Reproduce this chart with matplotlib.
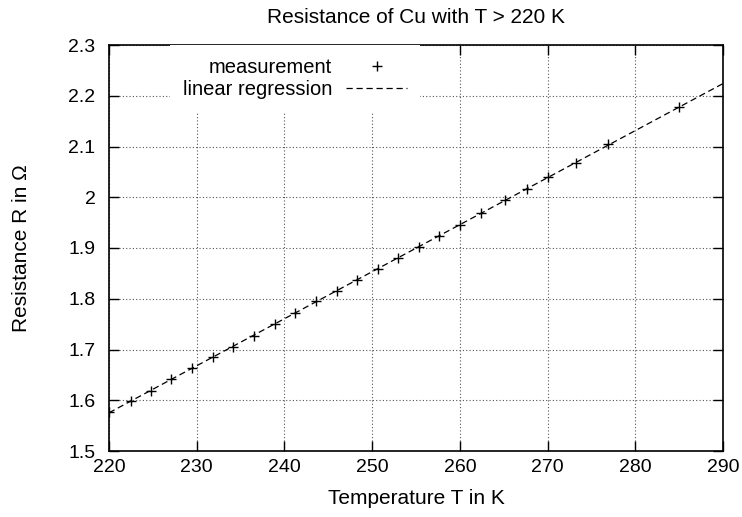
import numpy as np
import matplotlib
matplotlib.use("Agg")
import matplotlib.pyplot as plt

plt.rcParams['font.family'] = ['Liberation Sans', 'DejaVu Sans']

temperature = [220.0, 222.47, 224.74, 227.06, 229.42, 231.88, 234.09, 236.53, 238.89,
               241.2, 243.6, 245.95, 248.3, 250.63, 252.94, 255.3, 257.65, 260.01,
               262.4, 265.2, 267.65, 270.1, 273.25, 276.86, 284.99]
resistance = [1.577, 1.599, 1.618, 1.642, 1.663, 1.686, 1.704, 1.727, 1.750,
              1.772, 1.795, 1.816, 1.836, 1.859, 1.880, 1.902, 1.924, 1.946,
              1.968, 1.995, 2.016, 2.040, 2.068, 2.104, 2.178]
x_ticks = [220, 230, 240, 250, 260, 270, 280, 290]
y_ticks = [1.5, 1.6, 1.7, 1.8, 1.9, 2.0, 2.1, 2.2, 2.3]
x_tick_labels = ["220", "230", "240", "250", "260", "270", "280", "290"]
y_tick_labels = ["1.5", "1.6", "1.7", "1.8", "1.9", "2", "2.1", "2.2", "2.3"]

fig = plt.figure(figsize=(7.42, 5.17), dpi=100)
ax = fig.add_axes([109/742, 1 - 451/517, 614/742, 406/517])

slope, intercept = np.polyfit(temperature, resistance, 1)
xfit = np.array([x_ticks[0], x_ticks[-1]])
ax.plot(temperature, resistance, linestyle='none', marker='+', color='black',
        markersize=7, markeredgewidth=1.0, label='measurement', zorder=3)
ax.plot(xfit, slope * xfit + intercept, color='black', linewidth=0.9,
        linestyle=(0, (5, 3)), label='linear regression', zorder=2)

ax.set_xlim(x_ticks[0], x_ticks[-1])
ax.set_ylim(y_ticks[0], y_ticks[-1])
ax.set_xticks(x_ticks)
ax.set_xticklabels(x_tick_labels)
ax.set_yticks(y_ticks)
ax.set_yticklabels(y_tick_labels)
ax.tick_params(direction='in', length=7, width=1, top=True, right=True,
               labelsize=14)
ax.tick_params(axis='x', pad=6)
ax.tick_params(axis='y', pad=9.8)
ax.grid(True, color='#555555', linestyle=(0, (1, 2)), linewidth=0.8)
for s in ax.spines.values():
    s.set_linewidth(1.2)

ax.set_title("Resistance of Cu with T > 220 K", fontsize=15, pad=16)
ax.set_xlabel("Temperature T in K", fontsize=15, labelpad=9)
ax.set_ylabel("Resistance R in Ω", fontsize=15, labelpad=27)

leg = ax.legend(loc='upper right', bbox_to_anchor=(0.5065, 1.0), markerfirst=False,
                frameon=True, fancybox=False, framealpha=1, edgecolor='none',
                facecolor='white', fontsize=14.5, handlelength=3.0, handletextpad=0.7,
                labelspacing=0.15, borderpad=0.65, borderaxespad=0)
for col in leg._legend_handle_box.get_children():
    col.align = 'right'
leg.set_zorder(5)

fig.savefig("out.png", dpi=100)
